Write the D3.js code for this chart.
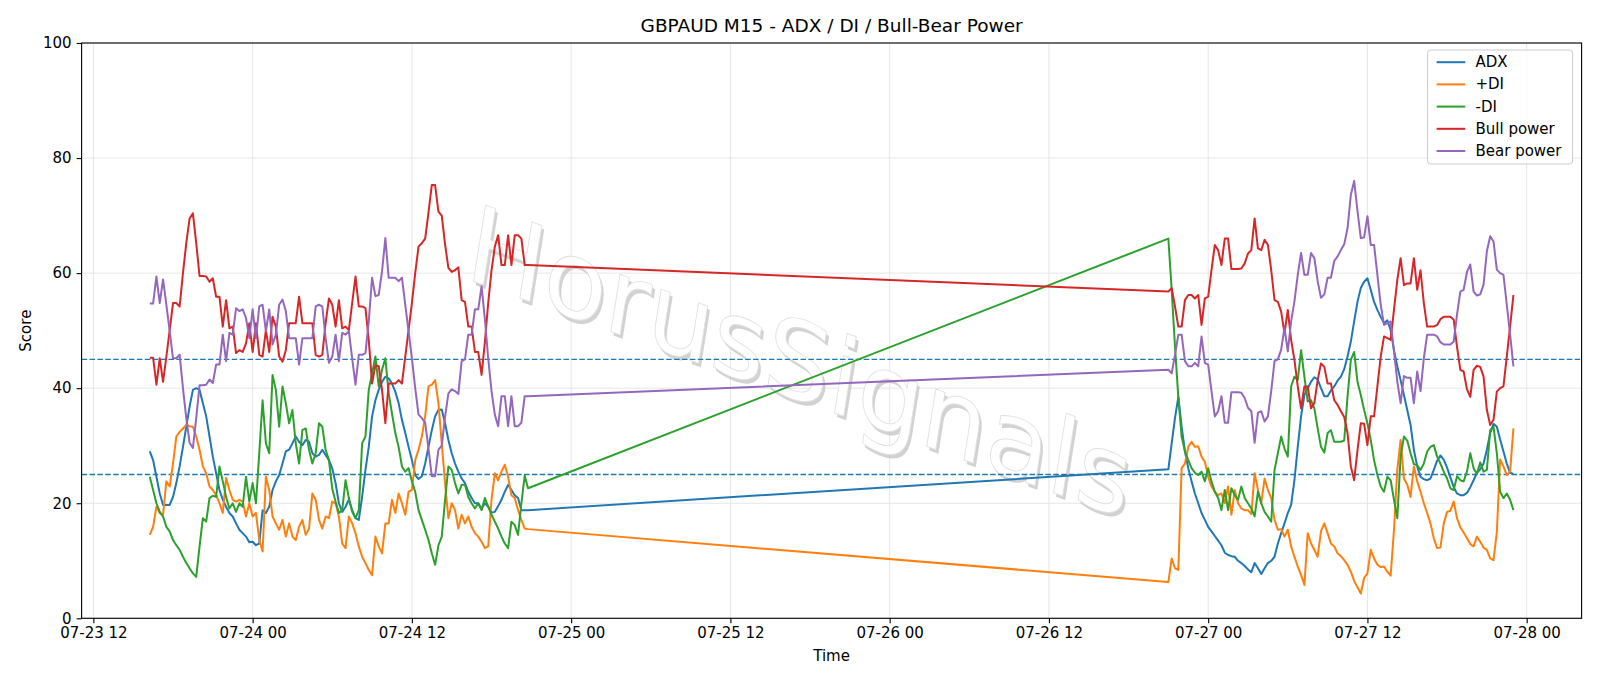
<!DOCTYPE html>
<html>
<head>
<meta charset="utf-8">
<script src="https://cdn.jsdelivr.net/npm/d3@7"></script>
<style>
body { margin: 0; background: #fff; }
svg { display: block; font-family: "DejaVu Sans", sans-serif; }
</style>
</head>
<body>
<div id="chart"></div>
<script>
var width = 1600;
var height = 686;
var plotLeft = 81.6, plotRight = 1581.6, plotTop = 43, plotBottom = 618.3;

// M15 bars, two trading blocks
var seg1Start = "2025-07-23 16:15";
var seg2Start = "2025-07-26 21:00";
var stepMinutes = 15;

var adx1 = [29.0, 27.5, 24.6, 21.7, 19.7, 19.7, 19.7, 21.1, 23.5, 26.4,
    29.8, 33.3, 36.8, 39.7, 40.0, 39.7, 37.4, 35.1, 31.6, 28.1,
    25.2, 22.3, 20.6, 19.4, 18.3, 17.7, 16.5, 15.4, 14.8, 14.2,
    13.2, 13.3, 12.7, 13.0, 18.8, 18.3, 19.4, 22.3, 23.8, 24.9,
    26.9, 29.0, 29.3, 30.4, 31.6, 30.7, 30.1, 31.0, 30.7, 28.7,
    28.1, 28.4, 29.3, 28.4, 27.5, 26.0, 23.5, 20.0, 18.5, 19.4,
    20.6, 18.8, 17.4, 17.1, 21.1, 25.8, 29.8, 35.1, 37.9, 39.7,
    41.1, 42.0, 41.7, 40.8, 39.4, 37.4, 34.5, 32.2, 29.8, 27.5,
    24.9, 24.2, 24.7, 26.9, 29.8, 32.7, 35.1, 36.2, 36.3, 33.9,
    31.0, 28.7, 26.9, 25.5, 24.3, 23.5, 22.0, 20.9, 20.0, 20.0,
    19.1, 20.0, 19.4, 18.4, 18.5, 19.5, 20.6, 22.0, 23.2, 22.3,
    21.4, 20.9, 18.8, 18.8, 18.8];
var adx2 = [25.9, 30.4, 34.8, 38.5, 33.3, 29.0, 26.1, 23.8, 21.7, 20.0,
    18.3, 17.1, 15.9, 15.1, 14.3, 13.5, 12.7, 11.4, 11.0, 10.8,
    10.7, 10.0, 9.6, 9.1, 8.5, 8.0, 9.6, 8.7, 7.7, 8.7,
    9.6, 10.0, 10.7, 13.0, 14.8, 16.5, 18.3, 19.7, 24.0, 29.8,
    35.1, 38.8, 40.0, 41.1, 41.9, 41.5, 40.0, 38.6, 38.6, 39.6,
    40.3, 41.3, 42.0, 43.3, 45.5, 48.1, 51.6, 55.0, 57.4, 58.5,
    59.1, 57.1, 55.0, 53.6, 52.4, 51.3, 51.8, 50.1, 46.6, 43.8,
    41.4, 38.8, 36.2, 33.6, 29.3, 26.4, 24.6, 24.2, 24.0, 24.3,
    25.8, 27.4, 28.3, 27.6, 26.2, 24.5, 22.8, 21.7, 21.4, 21.4,
    21.8, 22.8, 24.0, 25.3, 25.9, 26.9, 29.3, 32.2, 33.8, 33.3,
    31.1, 29.0, 26.9, 25.3, 25.1];

var plusDi1 = [14.5, 15.9, 19.4, 18.3, 18.0, 23.8, 22.9, 26.9, 31.6, 32.4,
    33.0, 33.6, 33.4, 33.3, 31.6, 29.3, 26.4, 25.2, 22.9, 22.3,
    21.4, 20.0, 18.3, 24.4, 22.3, 20.6, 20.3, 20.6, 20.3, 17.7,
    20.0, 17.7, 18.3, 13.6, 11.6, 24.6, 22.3, 17.7, 16.5, 15.4,
    17.1, 14.2, 16.5, 14.2, 13.6, 15.9, 17.1, 14.5, 15.6, 21.7,
    20.6, 17.1, 15.6, 17.7, 17.4, 20.3, 20.0, 17.7, 13.0, 12.2,
    17.7, 16.5, 14.8, 12.5, 10.7, 9.6, 8.4, 7.5, 14.2, 12.5,
    11.3, 16.5, 16.5, 20.6, 18.3, 21.7, 20.0, 18.0, 22.0, 22.3,
    27.5, 29.3, 31.6, 35.1, 40.3, 40.6, 41.4, 37.4, 30.4, 23.5,
    17.4, 20.0, 18.8, 15.6, 18.0, 16.5, 17.7, 15.9, 14.8, 14.2,
    13.3, 12.2, 12.5, 20.6, 25.2, 24.0, 25.5, 26.7, 24.6, 21.4,
    20.9, 18.8, 17.1, 15.6, 15.5];
var plusDi2 = [6.3, 10.4, 8.7, 8.4, 26.1, 26.9, 29.8, 30.7, 29.8, 29.9,
    28.1, 27.2, 24.6, 22.9, 22.0, 21.4, 21.7, 20.0, 22.9, 18.0,
    22.3, 20.0, 19.1, 18.8, 18.8, 18.1, 25.2, 22.3, 20.0, 24.3,
    22.3, 20.9, 17.1, 15.4, 15.5, 14.2, 15.4, 12.5, 10.7, 9.0,
    7.5, 5.8, 14.8, 13.0, 11.9, 10.7, 15.1, 16.5, 14.8, 13.0,
    12.5, 11.3, 10.8, 10.1, 9.3, 8.1, 6.5, 5.4, 4.3, 7.0,
    7.8, 11.9, 10.4, 9.3, 8.9, 9.0, 8.1, 7.4, 15.4, 25.8,
    31.0, 24.3, 23.2, 21.1, 26.4, 23.8, 22.0, 20.0, 18.3, 16.5,
    13.9, 12.2, 12.3, 16.5, 18.5, 18.7, 20.3, 17.4, 15.8, 14.9,
    13.9, 12.9, 12.5, 14.2, 13.3, 12.3, 11.9, 10.4, 10.1, 15.0,
    27.6, 26.4, 24.9, 25.5, 33.0];

var minusDi1 = [24.6, 22.3, 20.0, 18.5, 17.7, 15.9, 15.1, 13.6, 12.7, 11.9,
    10.7, 9.6, 8.7, 7.8, 7.2, 12.5, 17.4, 16.8, 20.9, 21.3,
    21.1, 26.4, 23.8, 21.1, 19.1, 20.0, 18.5, 20.0, 19.4, 24.6,
    20.3, 23.5, 20.0, 28.7, 37.9, 30.4, 28.7, 42.3, 39.7, 33.3,
    40.3, 37.4, 33.9, 36.2, 30.4, 26.9, 32.7, 33.0, 29.3, 26.9,
    28.7, 33.9, 33.3, 29.3, 27.5, 22.5, 20.3, 18.3, 18.8, 24.0,
    20.9, 18.5, 17.4, 18.8, 30.4, 31.6, 39.7, 42.6, 45.5, 40.3,
    43.2, 45.2, 39.1, 35.6, 32.2, 29.8, 26.4, 25.5, 26.1, 23.8,
    22.0, 18.8, 17.1, 15.4, 13.6, 11.3, 9.3, 12.7, 14.2, 20.6,
    26.4, 25.8, 23.5, 21.7, 23.2, 23.2, 21.1, 20.0, 19.1, 20.0,
    18.8, 20.9, 19.4, 18.0, 16.8, 15.6, 14.2, 13.0, 12.2, 16.8,
    16.2, 14.5, 20.0, 24.8, 22.6];
var minusDi2 = [66.0, 57.1, 47.2, 38.5, 31.6, 29.0, 27.5, 26.1, 25.3, 24.9,
    25.5, 23.8, 26.1, 23.8, 22.0, 20.9, 18.8, 22.3, 18.8, 22.6,
    21.4, 20.6, 22.9, 20.9, 20.0, 19.1, 17.7, 22.0, 20.0, 18.5,
    17.7, 16.8, 25.8, 28.7, 31.6, 29.5, 28.1, 40.3, 42.0, 41.4,
    46.6, 42.0, 37.7, 37.9, 36.5, 33.0, 29.8, 28.8, 32.2, 32.7,
    30.7, 30.7, 30.7, 30.9, 38.5, 44.9, 46.3, 41.1, 38.8, 36.2,
    33.9, 31.0, 27.5, 24.9, 22.9, 22.0, 24.6, 24.0, 20.6, 17.4,
    28.1, 31.6, 30.9, 28.7, 26.8, 26.6, 25.8, 26.9, 29.0, 29.8,
    30.1, 28.1, 26.9, 25.5, 24.3, 22.6, 22.3, 24.7, 24.0, 23.8,
    25.5, 28.7, 26.1, 25.1, 27.1, 25.5, 25.8, 32.7, 33.3, 28.7,
    22.0, 20.9, 21.7, 20.6, 18.8];

var bull1 = [45.3, 45.3, 40.6, 45.2, 41.1, 45.5, 50.1, 54.8, 54.8, 54.2,
    60.0, 65.2, 69.5, 70.4, 65.2, 59.5, 59.5, 59.4, 58.5, 59.1,
    55.9, 55.9, 50.7, 55.3, 50.4, 50.7, 46.1, 46.6, 46.3, 47.8,
    51.3, 46.3, 51.3, 45.8, 45.5, 50.1, 46.3, 52.4, 50.7, 45.5,
    44.6, 46.6, 51.3, 51.3, 51.3, 55.9, 51.3, 51.3, 51.3, 51.3,
    45.8, 45.5, 45.8, 51.3, 55.6, 54.5, 50.7, 55.3, 50.4, 50.7,
    50.1, 54.8, 59.4, 54.2, 54.2, 53.9, 48.4, 40.8, 44.0, 43.8,
    39.7, 33.9, 40.8, 40.8, 40.8, 41.4, 40.8, 45.5, 50.1, 54.8,
    60.0, 64.6, 65.2, 66.0, 70.5, 75.3, 75.3, 70.7, 70.0, 65.0,
    60.9, 60.2, 60.5, 61.0, 55.3, 55.0, 50.7, 50.7, 46.3, 46.3,
    42.3, 48.0, 54.8, 60.5, 64.6, 66.6, 61.4, 61.4, 66.6, 61.4,
    66.6, 66.6, 66.0, 61.4, 61.4];
var bull2 = [56.8, 57.4, 54.2, 50.7, 50.7, 55.3, 56.2, 56.2, 55.6, 56.2,
    51.0, 55.6, 55.9, 60.5, 64.9, 64.0, 61.4, 66.0, 66.0, 60.7,
    60.7, 60.7, 60.8, 61.7, 63.4, 64.0, 69.5, 64.3, 64.0, 65.8,
    64.9, 60.5, 55.3, 55.0, 53.3, 49.5, 53.6, 48.4, 44.9, 40.3,
    36.5, 40.3, 40.3, 36.5, 37.4, 41.4, 44.3, 43.7, 40.8, 40.8,
    37.9, 37.1, 36.0, 35.0, 32.2, 26.4, 24.0, 29.2, 33.9, 33.8,
    30.1, 35.1, 35.1, 40.3, 45.5, 49.0, 48.7, 48.4, 53.6, 58.8,
    62.6, 57.9, 58.2, 58.2, 62.6, 57.1, 60.5, 54.8, 50.7, 50.7,
    50.7, 51.0, 52.0, 52.4, 52.4, 52.4, 51.9, 47.2, 43.2, 42.9,
    39.8, 38.5, 43.2, 43.9, 43.7, 42.0, 36.2, 33.6, 34.5, 39.4,
    40.0, 40.3, 45.5, 50.7, 56.2];

var bear1 = [54.7, 54.7, 59.4, 54.8, 58.9, 54.5, 49.9, 45.2, 45.2, 45.8,
    40.0, 34.8, 30.5, 29.6, 34.8, 40.5, 40.5, 40.6, 41.5, 40.9,
    44.1, 44.1, 49.3, 44.7, 49.6, 49.3, 53.9, 53.4, 53.7, 52.2,
    48.7, 53.7, 48.7, 54.2, 54.5, 49.9, 53.7, 47.6, 49.3, 54.5,
    55.4, 53.4, 48.7, 48.7, 48.7, 44.1, 48.7, 48.7, 48.7, 48.7,
    54.2, 54.5, 54.2, 48.7, 44.4, 45.5, 49.3, 44.7, 49.6, 49.3,
    49.9, 45.2, 40.6, 45.8, 45.8, 46.1, 51.6, 59.2, 56.0, 56.2,
    60.3, 66.1, 59.2, 59.2, 59.2, 58.6, 59.2, 54.5, 49.9, 45.2,
    40.0, 35.4, 34.8, 34.0, 29.5, 24.7, 24.7, 29.3, 30.0, 35.0,
    39.1, 39.8, 39.5, 39.0, 44.7, 45.0, 49.3, 49.3, 53.7, 53.7,
    57.7, 52.0, 45.2, 39.5, 35.4, 33.4, 38.6, 38.6, 33.4, 38.6,
    33.4, 33.4, 34.0, 38.6, 38.6];
var bear2 = [43.2, 42.6, 45.8, 49.3, 49.3, 44.7, 43.8, 43.8, 44.4, 43.8,
    49.0, 44.4, 44.1, 39.5, 35.1, 36.0, 38.6, 34.0, 34.0, 39.3,
    39.3, 39.3, 39.2, 38.3, 36.6, 36.0, 30.5, 35.7, 36.0, 34.2,
    35.1, 39.5, 44.7, 45.0, 46.7, 50.5, 46.4, 51.6, 55.1, 59.7,
    63.5, 59.7, 59.7, 63.5, 62.6, 58.6, 55.7, 56.3, 59.2, 59.2,
    62.1, 62.9, 64.0, 65.0, 67.8, 73.6, 76.0, 70.8, 66.1, 66.2,
    69.9, 64.9, 64.9, 59.7, 54.5, 51.0, 51.3, 51.6, 46.4, 41.2,
    37.4, 42.1, 41.8, 41.8, 37.4, 42.9, 39.5, 45.2, 49.3, 49.3,
    49.3, 49.0, 48.0, 47.6, 47.6, 47.6, 48.1, 52.8, 56.8, 57.1,
    60.2, 61.5, 56.8, 56.1, 56.3, 58.0, 63.8, 66.4, 65.5, 60.6,
    60.0, 59.7, 54.5, 49.3, 43.8];

var levels = [45, 25];
var yTicks = [0, 20, 40, 60, 80, 100];

var parse = d3.utcParse("%Y-%m-%d %H:%M");
function stamps(start, n) {
    var t0 = parse(start);
    return d3.range(n).map(function (i) { return d3.utcMinute.offset(t0, i * stepMinutes); });
}
var times = stamps(seg1Start, adx1.length).concat(stamps(seg2Start, adx2.length));

var series = [
    {name: "ADX", color: "#1f77b4", values: adx1.concat(adx2)},
    {name: "+DI", color: "#ff7f0e", values: plusDi1.concat(plusDi2)},
    {name: "-DI", color: "#2ca02c", values: minusDi1.concat(minusDi2)},
    {name: "Bull power", color: "#d62728", values: bull1.concat(bull2)},
    {name: "Bear power", color: "#9467bd", values: bear1.concat(bear2)}
];

var svg = d3.select("#chart").append("svg")
    .attr("width", width)
    .attr("height", height);

var ext = d3.extent(times);
var pad = (ext[1] - ext[0]) * 0.05;
var x = d3.scaleUtc()
    .domain([new Date(+ext[0] - pad), new Date(+ext[1] + pad)])
    .range([plotLeft, plotRight]);
var y = d3.scaleLinear().domain([0, 100]).range([plotBottom, plotTop]);

var xTicks = x.ticks(d3.utcHour.every(12));

// grid
var grid = svg.append("g").attr("stroke", "#e6e6e6").attr("stroke-width", 1);
grid.selectAll("line.gx").data(xTicks).enter().append("line")
    .attr("x1", function (d) { return x(d); }).attr("x2", function (d) { return x(d); })
    .attr("y1", plotTop).attr("y2", plotBottom);
grid.selectAll("line.gy").data(yTicks).enter().append("line")
    .attr("x1", plotLeft).attr("x2", plotRight)
    .attr("y1", function (d) { return y(d); }).attr("y2", function (d) { return y(d); });

// watermark (slanted baseline, letters kept fairly upright)
var wm = svg.append("g").attr("transform", "translate(800,362) rotate(9) skewY(11)");
wm.append("text")
    .attr("x", 3).attr("y", 3)
    .attr("text-anchor", "middle").attr("dominant-baseline", "central")
    .attr("font-size", 106)
    .attr("fill", "#c4c4c4").attr("opacity", 0.75)
    .text("HorusSignals");
wm.append("text")
    .attr("text-anchor", "middle").attr("dominant-baseline", "central")
    .attr("font-size", 106)
    .attr("fill", "#ffffff").attr("stroke", "#e0e0e0").attr("stroke-width", 0.8)
    .text("HorusSignals");

// threshold lines
svg.selectAll("line.level").data(levels).enter().append("line")
    .attr("x1", plotLeft).attr("x2", plotRight)
    .attr("y1", function (d) { return y(d); }).attr("y2", function (d) { return y(d); })
    .attr("stroke", "#1f77b4").attr("stroke-width", 1.3)
    .attr("stroke-dasharray", "5.5,2.4");

var line = d3.line()
    .x(function (d, i) { return x(times[i]); })
    .y(function (d) { return y(d); });

svg.append("g").selectAll("path").data(series).enter().append("path")
    .attr("d", function (s) { return line(s.values); })
    .attr("fill", "none")
    .attr("stroke", function (s) { return s.color; })
    .attr("stroke-width", 2)
    .attr("stroke-linejoin", "round");

// frame
svg.append("rect")
    .attr("x", plotLeft).attr("y", plotTop)
    .attr("width", plotRight - plotLeft).attr("height", plotBottom - plotTop)
    .attr("fill", "none").attr("stroke", "#000").attr("stroke-width", 1.1);

// axes
var xAxis = svg.append("g")
    .attr("transform", "translate(0," + plotBottom + ")")
    .call(d3.axisBottom(x).tickValues(xTicks).tickFormat(d3.utcFormat("%m-%d %H"))
        .tickSize(5).tickPadding(4).tickSizeOuter(0));
var yAxis = svg.append("g")
    .attr("transform", "translate(" + plotLeft + ",0)")
    .call(d3.axisLeft(y).tickValues(yTicks).tickSize(5).tickPadding(5).tickSizeOuter(0));
[xAxis, yAxis].forEach(function (g) {
    g.select(".domain").remove();
    g.selectAll("text").attr("font-size", 15).attr("font-family", "DejaVu Sans").attr("fill", "#000");
    g.selectAll("line").attr("stroke", "#000").attr("stroke-width", 1.1);
});

svg.append("text")
    .attr("x", (plotLeft + plotRight) / 2).attr("y", 25.5)
    .attr("text-anchor", "middle").attr("dominant-baseline", "central")
    .attr("font-size", 18.5)
    .text("GBPAUD M15 - ADX / DI / Bull-Bear Power");
svg.append("text")
    .attr("x", (plotLeft + plotRight) / 2).attr("y", 656)
    .attr("text-anchor", "middle").attr("dominant-baseline", "central")
    .attr("font-size", 15)
    .text("Time");
svg.append("text")
    .attr("transform", "translate(25.5," + ((plotTop + plotBottom) / 2) + ") rotate(-90)")
    .attr("text-anchor", "middle").attr("dominant-baseline", "central")
    .attr("font-size", 15)
    .text("Score");

// legend
var legend = svg.append("g").attr("transform", "translate(1427.6,50)");
legend.append("rect")
    .attr("width", 145).attr("height", 114).attr("rx", 3)
    .attr("fill", "#fff").attr("fill-opacity", 0.8)
    .attr("stroke", "#cccccc").attr("stroke-width", 1);
var item = legend.selectAll("g.item").data(series).enter().append("g")
    .attr("transform", function (d, i) { return "translate(0," + (12.2 + i * 22.2) + ")"; });
item.append("line")
    .attr("x1", 9).attr("x2", 37.7)
    .attr("stroke", function (d) { return d.color; }).attr("stroke-width", 2);
item.append("text")
    .attr("x", 47.9).attr("dominant-baseline", "central")
    .attr("font-size", 15)
    .text(function (d) { return d.name; });
</script>
</body>
</html>
